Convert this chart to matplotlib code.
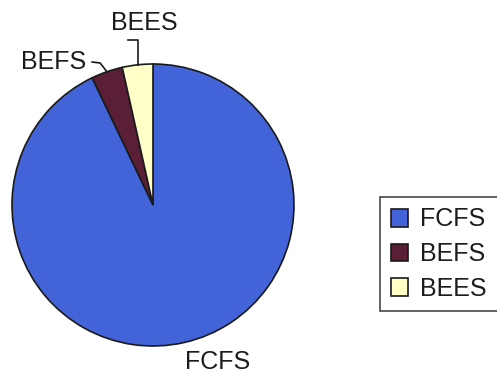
import numpy as np
import matplotlib.pyplot as plt
from matplotlib.patches import Patch

plt.rcParams['font.family'] = ['Liberation Sans', 'DejaVu Sans']

# share of jobs per scheduling policy (%)
policies = ['FCFS', 'BEFS', 'BEES']
shares = [92.9, 3.6, 3.5]
colors = ['#4264d8', '#5a1f36', '#ffffc8']

W, H = 497, 378
fig = plt.figure(figsize=(W / 100, H / 100), dpi=100)
fig.patch.set_facecolor('white')

# pie area: centre (153, 205) px, radius 141 px
R = 141
cx, cy = 153, 205
ax = fig.add_axes([(cx - R) / W, (H - cy - R) / H, 2 * R / W, 2 * R / H])

wedges, _ = ax.pie(shares, colors=colors, startangle=90, counterclock=False,
                   radius=1, wedgeprops=dict(edgecolor='#1a1a1a', linewidth=1.2))
for w in wedges:
    w.set_clip_on(False)
# pie() pads the limits, so set them afterwards
ax.set_xlim(-1, 1)
ax.set_ylim(-1, 1)
ax.set_aspect('equal')
ax.axis('off')

fs = 18
txt_color = '#1c1c1c'

def anchor(w):
    mid = np.deg2rad((w.theta1 + w.theta2) / 2)
    return np.cos(mid), np.sin(mid)

# FCFS label below the pie
ax0, ay0 = anchor(wedges[0])
ax.text(ax0 + 0.235, ay0 - 0.135, policies[0], fontsize=fs, ha='center',
        va='center', color=txt_color, clip_on=False)

# BEFS label with a short leader line
bx, by = anchor(wedges[1])
ax.plot([bx, bx - 0.048, bx - 0.105], [by, by + 0.062, by + 0.069],
        color='#1a1a1a', lw=1.2, clip_on=False)
ax.text(bx - 0.15, by + 0.069, policies[1], fontsize=fs, ha='right',
        va='center', color=txt_color, clip_on=False)

# BEES label with a bracket-shaped leader
ex, ey = anchor(wedges[2])
ax.plot([ex, ex, ex - 0.066], [ey, 1.17, 1.17],
        color='#1a1a1a', lw=1.2, clip_on=False)
ax.text(ex + 0.05, 1.29, policies[2], fontsize=fs, ha='center',
        va='center', color=txt_color, clip_on=False)

handles = [Patch(facecolor=c, edgecolor='#1a1a1a', linewidth=1.2) for c in colors]
leg = fig.legend(handles, policies, loc='upper left',
                 bbox_to_anchor=(380 / W, 1 - 197 / H), fontsize=fs,
                 frameon=True, fancybox=False, handlelength=0.7,
                 handleheight=0.7, handletextpad=0.5, labelspacing=0.42,
                 borderpad=0.42, borderaxespad=0)
leg.get_frame().set_edgecolor('#1a1a1a')
leg.get_frame().set_linewidth(1.2)
for t in leg.get_texts():
    t.set_color(txt_color)

fig.savefig('out.png', dpi=100, facecolor='white')
